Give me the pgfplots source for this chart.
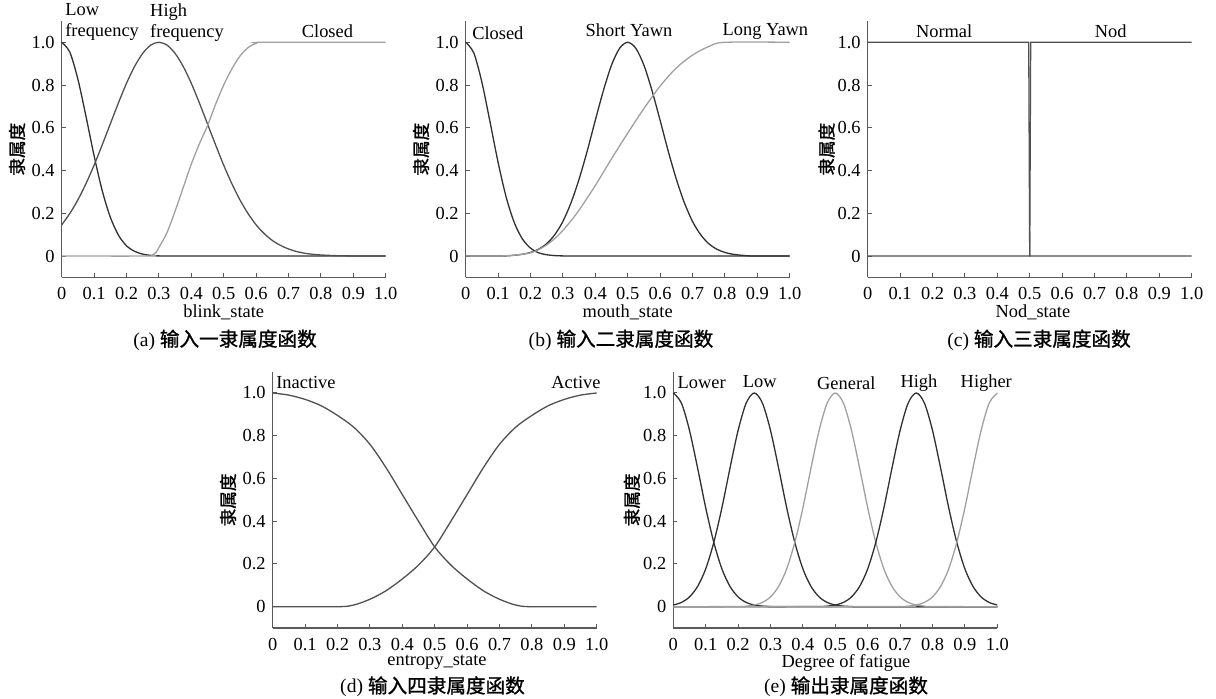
\documentclass[border=0pt]{standalone}
\usepackage{fontspec}
\setmainfont{Liberation Serif}
\newfontfamily\cjk{Noto Sans CJK SC}[FakeBold=1.2]
\usepackage{pgfplots}
\pgfplotsset{compat=1.18}
\definecolor{dk}{HTML}{303030}
\definecolor{md}{HTML}{505050}
\definecolor{lt}{HTML}{A0A0A0}
\definecolor{ax}{HTML}{5A5A5A}
\pgfplotsset{mf/.style={
  scale only axis, width=162pt, height=128.25pt,
  xmin=0, xmax=1, ymin=-0.1, ymax=1.1,
  axis x line*=bottom, axis y line*=left,
  xtick={0,0.1,0.2,0.3,0.4,0.5,0.6,0.7,0.8,0.9,1},
  xticklabels={0,0.1,0.2,0.3,0.4,0.5,0.6,0.7,0.8,0.9,1.0},
  ytick={0,0.2,0.4,0.6,0.8,1},
  yticklabels={0,0.2,0.4,0.6,0.8,1.0},
  tick align=inside, major tick length=2pt,
  tick style={ax, line width=0.5pt},
  axis line style={ax, line width=0.7pt},
  clip=false,
  ticklabel style={font=\fontsize{9.2}{10}\selectfont},
  xticklabel style={yshift=-1.5pt},
  /pgf/number format/assume math mode=true,
  ylabel={\cjk 隶属度},
  xlabel style={font=\fontsize{9.2}{10}\selectfont, at={(axis description cs:0.5,-0.135)}, anchor=center},
  ylabel style={font=\fontsize{8.8}{9}\selectfont, at={(axis description cs:-0.138,0.5)}, anchor=center},
  every axis plot/.append style={line width=0.65pt, mark=none},
}}
\tikzset{lbl/.style={font=\fontsize{9.2}{10.5}\selectfont, inner sep=0pt, align=left}}
\begin{document}
\begin{tikzpicture}
\path[use as bounding box] (0,0) rectangle (608pt,-349pt);
% (a)
\begin{axis}[mf, at={(30.85pt,-138.7pt)}, anchor=south west, xlabel={blink\_state}]
\addplot[dk, smooth] coordinates {(0,1) (0.025,0.954) (0.05,0.827) (0.075,0.653) (0.1,0.469) (0.125,0.306) (0.15,0.182) (0.175,0.098) (0.2,0.048) (0.225,0.022) (0.25,0.009) (0.275,0.003) (0.3,0.001) (0.35,0) (1,0)};
\addplot[md, smooth] coordinates {(0,0.146) (0.025,0.199) (0.05,0.263) (0.075,0.339) (0.1,0.425) (0.125,0.520) (0.15,0.618) (0.175,0.716) (0.2,0.808) (0.225,0.887) (0.25,0.948) (0.275,0.987) (0.3,1) (0.325,0.987) (0.35,0.948) (0.375,0.887) (0.4,0.808) (0.425,0.716) (0.45,0.618) (0.475,0.520) (0.5,0.425) (0.525,0.339) (0.55,0.263) (0.575,0.199) (0.6,0.146) (0.625,0.105) (0.65,0.073) (0.675,0.050) (0.7,0.033) (0.725,0.021) (0.75,0.013) (0.775,0.008) (0.8,0.005) (0.85,0.0016) (0.9,0.0005) (0.95,0) (1,0)};
\addplot[lt, smooth] coordinates {(0,0) (0.27,0) (0.28,0.005) (0.29,0.015) (0.3,0.04) (0.325,0.11) (0.35,0.21) (0.375,0.32) (0.4,0.43) (0.425,0.525) (0.45,0.61) (0.475,0.71) (0.5,0.80) (0.525,0.875) (0.55,0.935) (0.575,0.975) (0.6,0.995) (0.625,1) (1,1)};
\node[lbl, anchor=west] at (axis cs:0.01,1.093) {Low\\frequency};
\node[lbl, anchor=west] at (axis cs:0.272,1.093) {High\\frequency};
\node[lbl, anchor=west] at (axis cs:0.74,1.053) {Closed};
\end{axis}
% (b)
\begin{axis}[mf, at={(232.85pt,-138.7pt)}, anchor=south west, xlabel={mouth\_state}]
\addplot[dk, smooth] coordinates {(0,1) (0.025,0.950) (0.05,0.813) (0.075,0.628) (0.1,0.438) (0.125,0.275) (0.15,0.156) (0.175,0.080) (0.2,0.037) (0.225,0.015) (0.25,0.006) (0.275,0.002) (0.3,0.0006) (0.35,0) (1,0)};
\addplot[dk, smooth] coordinates {(0,0) (0.1,0.0001) (0.125,0.0007) (0.15,0.0038) (0.175,0.0082) (0.2,0.0167) (0.225,0.032) (0.25,0.058) (0.275,0.100) (0.3,0.162) (0.325,0.249) (0.35,0.360) (0.375,0.491) (0.4,0.635) (0.425,0.774) (0.45,0.893) (0.475,0.972) (0.5,1) (0.525,0.972) (0.55,0.893) (0.575,0.774) (0.6,0.635) (0.625,0.491) (0.65,0.360) (0.675,0.249) (0.7,0.162) (0.725,0.100) (0.75,0.058) (0.775,0.032) (0.8,0.0167) (0.825,0.0082) (0.85,0.0038) (0.875,0.0007) (0.9,0.0001) (1,0)};
\addplot[lt, smooth] coordinates {(0,0) (0.1,0) (0.15,0.004) (0.2,0.015) (0.225,0.03) (0.25,0.052) (0.275,0.082) (0.3,0.12) (0.325,0.165) (0.35,0.215) (0.4,0.33) (0.45,0.455) (0.5,0.575) (0.55,0.69) (0.6,0.795) (0.65,0.88) (0.7,0.94) (0.75,0.98) (0.8,1) (1,1)};
\node[lbl, anchor=west] at (axis cs:0.019,1.043) {Closed};
\node[lbl] at (axis cs:0.504,1.058) {Short Yawn};
\node[lbl] at (axis cs:0.925,1.05) {Long Yawn};
\end{axis}
% (c)
\begin{axis}[mf, at={(433.85pt,-138.7pt)}, anchor=south west, xlabel={Nod\_state}, xlabel style={at={(axis description cs:0.51,-0.135)}}, ylabel style={at={(axis description cs:-0.127,0.5)}}]
\addplot[md] coordinates {(0,1) (0.497,1) (0.5,0) (1,0)};
\addplot[md] coordinates {(0,0) (0.5,0) (0.503,1) (1,1)};
\node[lbl] at (axis cs:0.236,1.05) {Normal};
\node[lbl] at (axis cs:0.75,1.05) {Nod};
\end{axis}
% (d)
\begin{axis}[mf, at={(136.35pt,-314.05pt)}, anchor=south west, xlabel={entropy\_state}, xlabel style={at={(axis description cs:0.507,-0.135)}}]
\addplot[md, smooth] coordinates {(0,1) (0.05,0.99) (0.1,0.97) (0.15,0.94) (0.2,0.895) (0.25,0.84) (0.3,0.76) (0.35,0.65) (0.4,0.525) (0.45,0.40) (0.5,0.28) (0.55,0.195) (0.6,0.13) (0.65,0.075) (0.7,0.035) (0.75,0.008) (0.8,0) (1,0)};
\addplot[md, smooth] coordinates {(0,0) (0.2,0) (0.25,0.008) (0.3,0.035) (0.35,0.075) (0.4,0.13) (0.45,0.195) (0.5,0.28) (0.55,0.40) (0.6,0.525) (0.65,0.65) (0.7,0.76) (0.75,0.84) (0.8,0.895) (0.85,0.94) (0.9,0.97) (0.95,0.99) (1,1)};
\node[lbl, anchor=west] at (axis cs:0.01,1.047) {Inactive};
\node[lbl] at (axis cs:0.936,1.047) {Active};
\end{axis}
% (e)
\begin{axis}[mf, at={(336.65pt,-314.05pt)}, anchor=south west, xlabel={Degree of fatigue}, xlabel style={at={(axis description cs:0.533,-0.135)}}, ylabel style={at={(axis description cs:-0.128,0.5)}}]
\addplot[dk, smooth] coordinates {(0,1) (0.025,0.953) (0.05,0.825) (0.075,0.649) (0.1,0.463) (0.125,0.301) (0.15,0.177) (0.175,0.095) (0.2,0.046) (0.225,0.020) (0.25,0.008) (0.275,0.003) (0.3,0.001) (0.35,0) (1,0)};
\addplot[dk, smooth] coordinates {(0,0.008) (0.025,0.020) (0.05,0.046) (0.075,0.095) (0.1,0.177) (0.125,0.301) (0.15,0.463) (0.175,0.649) (0.2,0.825) (0.225,0.953) (0.25,1) (0.275,0.953) (0.3,0.825) (0.325,0.649) (0.35,0.463) (0.375,0.301) (0.4,0.177) (0.425,0.095) (0.45,0.046) (0.475,0.020) (0.5,0.008) (0.525,0.003) (0.55,0.001) (0.6,0) (1,0)};
\addplot[lt, smooth] coordinates {(0,0) (0.2,0.001) (0.225,0.003) (0.25,0.008) (0.275,0.020) (0.3,0.046) (0.325,0.095) (0.35,0.177) (0.375,0.301) (0.4,0.463) (0.425,0.649) (0.45,0.825) (0.475,0.953) (0.5,1) (0.525,0.953) (0.55,0.825) (0.575,0.649) (0.6,0.463) (0.625,0.301) (0.65,0.177) (0.675,0.095) (0.7,0.046) (0.725,0.020) (0.75,0.008) (0.775,0.003) (0.8,0.001) (1,0)};
\addplot[dk, smooth] coordinates {(0,0) (0.45,0.001) (0.475,0.003) (0.5,0.008) (0.525,0.020) (0.55,0.046) (0.575,0.095) (0.6,0.177) (0.625,0.301) (0.65,0.463) (0.675,0.649) (0.7,0.825) (0.725,0.953) (0.75,1) (0.775,0.953) (0.8,0.825) (0.825,0.649) (0.85,0.463) (0.875,0.301) (0.9,0.177) (0.925,0.095) (0.95,0.046) (0.975,0.020) (1,0.008)};
\addplot[lt, smooth] coordinates {(0,0) (0.7,0.001) (0.725,0.003) (0.75,0.008) (0.775,0.020) (0.8,0.046) (0.825,0.095) (0.85,0.177) (0.875,0.301) (0.9,0.463) (0.925,0.649) (0.95,0.825) (0.975,0.953) (1,1)};
\node[lbl] at (axis cs:0.0875,1.047) {Lower};
\node[lbl] at (axis cs:0.267,1.054) {Low};
\node[lbl] at (axis cs:0.534,1.047) {General};
\node[lbl] at (axis cs:0.758,1.047) {High};
\node[lbl] at (axis cs:0.966,1.047) {Higher};
\end{axis}
% captions
\node[font=\fontsize{9.8}{10}\selectfont] at (112.5pt,-170pt) {(a) {\cjk 输入一隶属度函数}};
\node[font=\fontsize{9.8}{10}\selectfont] at (310.5pt,-170pt) {(b) {\cjk 输入二隶属度函数}};
\node[font=\fontsize{9.8}{10}\selectfont] at (519.5pt,-170pt) {(c) {\cjk 输入三隶属度函数}};
\node[font=\fontsize{9.8}{10}\selectfont] at (216.25pt,-343.35pt) {(d) {\cjk 输入四隶属度函数}};
\node[font=\fontsize{9.8}{10}\selectfont] at (423pt,-343.35pt) {(e) {\cjk 输出隶属度函数}};
\end{tikzpicture}
\end{document}
